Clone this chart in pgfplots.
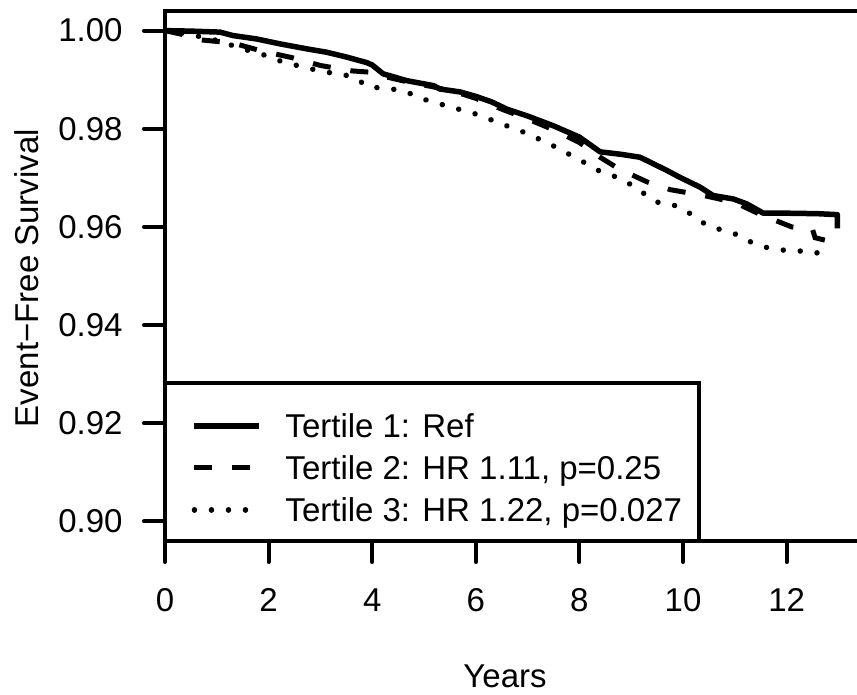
\documentclass[border=0pt]{standalone}
\usepackage{fontspec}
\setmainfont{Liberation Sans}
\usepackage{pgfplots}
\pgfplotsset{compat=1.18}
\newcommand{\chartfont}{\fontsize{33}{40}\selectfont}
\begin{document}
\chartfont
\begin{tikzpicture}
\begin{axis}[
  at={(0pt,0pt)}, anchor=south west,
  scale only axis, width=704.5pt, height=530pt,
  xmin=0, xmax=13.6, ymin=0.896, ymax=1.004,
  xtick={0,2,4,6,8,10,12},
  ytick={0.90,0.92,0.94,0.96,0.98,1.00},
  /pgf/number format/assume math mode=true,
  tick pos=left, tick align=outside,
  major tick length=21pt,
  tick style={line width=4pt, black, line cap=round},
  axis line style={line width=4pt, line cap=rect},
  tick label style={font=\chartfont},
  xticklabel style={inner sep=0pt, anchor=north},
  yticklabel style={/pgf/number format/fixed, /pgf/number format/fixed zerofill, /pgf/number format/precision=2, inner sep=0pt, anchor=east},
  xticklabel shift=26.5pt, yticklabel shift=21.3pt,
  xlabel={Years}, ylabel={Event−Free Survival},
  xlabel style={at={(axis description cs:0.4826,-0.2547)}, anchor=center, font=\chartfont, inner sep=0pt},
  ylabel style={at={(axis description cs:-0.1959,0.4962)}, anchor=center, rotate=0, font=\chartfont, inner sep=0pt},
  legend image code/.code={\draw[#1] (0pt,-5.8pt) -- (65pt,-5.8pt);},
  legend style={at={(0,0)}, anchor=south west, draw=black, line width=4pt, fill=white,
    outer sep=0pt, inner xsep=26.7pt, inner ysep=19.5pt, column sep=23.3pt, row sep=7pt,
    nodes={inner sep=0pt, text depth=0pt}, cells={anchor=west}, font=\chartfont},
]
\addplot[black, line width=5.5pt, line join=round] table {
0 1.0000
0.5 0.9999
1.06 0.9997
1.31 0.9990
1.77 0.9983
2.22 0.9973
2.73 0.9963
3.12 0.9956
3.51 0.9946
3.89 0.9935
4.0 0.9930
4.21 0.9912
4.67 0.9898
5.18 0.9888
5.31 0.9881
5.7 0.9875
6.0 0.9866
6.3 0.9855
6.6 0.9840
7.0 0.9826
7.5 0.9806
8.0 0.9783
8.4 0.9753
8.8 0.9748
9.17 0.9742
9.69 0.9715
9.94 0.9701
10.33 0.9681
10.58 0.9664
10.97 0.9657
11.23 0.9647
11.55 0.9628
12.0 0.9628
12.6 0.9627
12.98 0.9625
12.98 0.9597
};
\addlegendentry{\makebox[386.3pt][l]{\rule{0pt}{35pt}\smash{Tertile 1: Ref}}}
\addplot[black, line width=5pt, dash pattern=on 18pt off 20pt] table {
0 1.0000
0.3 0.9993
0.7 0.9981
1.3 0.9975
1.85 0.9959
2.45 0.9945
3.0 0.9929
3.6 0.9918
4.0 0.9915
4.3 0.9905
4.7 0.9895
5.2 0.9885
5.7 0.9872
6.0 0.9862
6.5 0.9840
7.0 0.9820
7.5 0.9798
8.0 0.9772
8.4 0.9742
8.75 0.9719
9.3 0.9692
9.75 0.9676
10.4 0.9664
11.0 0.9650
11.5 0.9625
12.1 0.9600
12.5 0.9595
12.55 0.9578
12.78 0.9572
};
\addlegendentry{\makebox[386.3pt][l]{\rule{0pt}{35pt}\smash{Tertile 2: HR 1.11, p=0.25}}}
\addplot[black, line width=5.5pt, line cap=round, dash pattern=on 0.01pt off 17pt] table {
0 1.0000
0.5 0.9992
1.0 0.9980
1.5 0.9963
1.96 0.9949
2.25 0.9937
2.7 0.9925
3.12 0.9915
3.41 0.9912
3.70 0.9902
3.92 0.9885
4.25 0.9883
4.57 0.9878
4.83 0.9868
5.08 0.9857
5.5 0.9845
6.0 0.9830
6.5 0.9810
7.0 0.9790
7.5 0.9765
8.0 0.9737
8.4 0.9713
8.66 0.9704
8.91 0.9691
9.14 0.9678
9.33 0.9660
9.56 0.9648
9.88 0.9643
10.10 0.9630
10.31 0.9613
10.55 0.9599
10.84 0.9592
11.10 0.9582
11.33 0.9568
11.62 0.9558
11.90 0.9553
12.24 0.9551
12.58 0.9548
12.74 0.9528
};
\addlegendentry{\makebox[386.3pt][l]{\rule{0pt}{35pt}\smash{Tertile 3: HR 1.22, p=0.027}}}
\end{axis}
\pgfresetboundingbox
\path[use as bounding box] (-165pt,-153pt) rectangle (692pt,541pt);
\end{tikzpicture}
\end{document}
